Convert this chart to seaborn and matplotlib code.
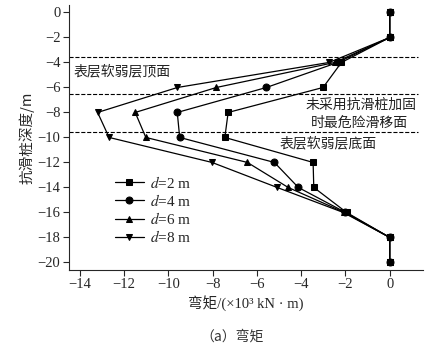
import pandas as pd
import matplotlib
matplotlib.use("Agg")
import matplotlib.pyplot as plt
import seaborn as sns

# depth of pile (m) and bending moment (x10^3 kN·m) for each embedment d
depth = [0, -2, -4, -6, -8, -10, -12, -14, -16, -18, -20]
m_d2 = [0, 0, -2.18, -3.01, -7.3, -7.45, -3.46, -3.43, -1.95, 0, 0]
m_d4 = [0, 0, -2.35, -5.57, -9.6, -9.49, -5.21, -4.13, -2.0, 0, 0]
m_d6 = [0, 0, -2.48, -7.83, -11.5, -11.02, -6.43, -4.59, -2.05, 0, 0]
m_d8 = [0, 0, -2.74, -9.59, -13.2, -12.68, -8.03, -5.09, -2.1, 0, 0]
labels = ["$d$=2 m", "$d$=4 m", "$d$=6 m", "$d$=8 m"]

# horizontal reference levels
top_weak = -3.6
slip_surface = -6.55
bottom_weak = -9.6

rows = []
for lab, vals in zip(labels, [m_d2, m_d4, m_d6, m_d8]):
    for dep, v in zip(depth, vals):
        rows.append({"depth": dep, "moment": v, "d": lab})
df = pd.DataFrame(rows)

sns.set_style("ticks")
plt.rcParams["font.family"] = ["Liberation Serif", "Noto Sans CJK SC"]
plt.rcParams["mathtext.fontset"] = "stix"
cjk = ["Noto Sans CJK SC", "Liberation Serif"]

fig = plt.figure(figsize=(4.47, 3.57), dpi=100)
ax = fig.add_axes([0.154, 0.244, 0.792, 0.742])

sns.lineplot(data=df, x="moment", y="depth", hue="d", style="d",
             palette=["black"] * 4, markers=["s", "o", "^", "v"], dashes=False,
             sort=False, estimator=None, markersize=5, linewidth=0.9,
             markeredgecolor="black", ax=ax)

for lvl in [top_weak, slip_surface, bottom_weak]:
    ax.axhline(lvl, color="black", linestyle="--", linewidth=0.8, xmin=0, xmax=0.985)

txt = dict(family=cjk, fontsize=10, va="center", color="#222222")
ax.text(-14.3, -4.7, "表层软弱层顶面", **txt)
ax.text(1.2, -7.4, "未采用抗滑桩加固", ha="right", **txt)
ax.text(-1.35, -8.85, "时最危险滑移面", ha="center", **txt)
ax.text(-2.8, -10.45, "表层软弱层底面", ha="center", **txt)

ax.set_xlim(-14.5, 1.5)
ax.set_ylim(-20.6, 0.6)
ax.set_xticks(range(-14, 1, 2))
ax.set_yticks(range(-20, 1, 2))
ax.set_xticklabels([f"\u2212{abs(t)}" if t < 0 else str(t) for t in range(-14, 1, 2)], fontsize=10.5)
ax.set_yticklabels([f"\u2212{abs(t)}" if t < 0 else str(t) for t in range(-20, 1, 2)], fontsize=10.5)
ax.tick_params(direction="out", length=4, width=0.8, pad=2)
sns.despine(ax=ax)
for s in ["left", "bottom"]:
    ax.spines[s].set_linewidth(0.8)

ax.set_xlabel("弯矩/(×10³ kN · m)", family=cjk[::-1], fontsize=10.5, labelpad=3)
ax.set_ylabel("抗滑桩深度/m", family=cjk, fontsize=10.5, labelpad=2)

leg = ax.legend(loc="upper left", bbox_to_anchor=(0.13, 0.36), frameon=False,
                fontsize=11, handlelength=1.9, handletextpad=0.4, labelspacing=0.15,
                borderaxespad=0, borderpad=0)

fig.text(0.52, 0.045, "（a）弯矩", family=cjk, fontsize=10, ha="center", color="#333333")

fig.savefig("out.png", dpi=100)
